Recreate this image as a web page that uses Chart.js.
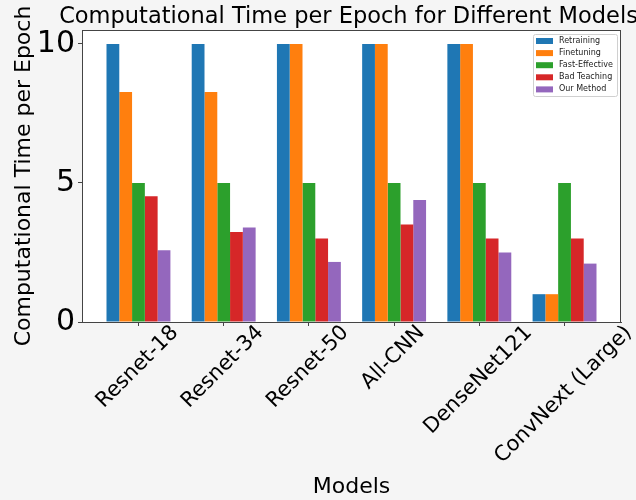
<!DOCTYPE html>
<html>
<head>
<meta charset="utf-8">
<script src="https://cdn.jsdelivr.net/npm/chart.js@4.4.0/dist/chart.umd.min.js"></script>
<style>
  body { margin: 0; background: #f5f5f5; }
  #wrap { width: 636px; height: 500px; }
</style>
</head>
<body>
<div id="wrap"><canvas id="timeChart" width="636" height="500"></canvas></div>
<script>
// Values
const models = ['Resnet-18', 'Resnet-34', 'Resnet-50', 'All-CNN', 'DenseNet121', 'ConvNext (Large)'];
const retraining = [10, 10, 10, 10, 10, 1];
const finetuning = [8.27, 8.27, 10, 10, 10, 1];
const fastEffective = [5, 5, 5, 5, 5, 5];
const badTeaching = [4.52, 3.24, 3.0, 3.51, 3.0, 3.0];
const ourMethod = [2.58, 3.40, 2.16, 4.39, 2.50, 2.10];
const yTicks = [0, 5, 10];

const seriesNames = ['Retraining', 'Finetuning', 'Fast-Effective', 'Bad Teaching', 'Our Method'];
const seriesValues = [retraining, finetuning, fastEffective, badTeaching, ourMethod];
const colors = ['#1f77b4', '#ff7f0e', '#2ca02c', '#d62728', '#9467bd'];

const FONT = 'DejaVu Sans';

const datasets = seriesNames.map((name, i) => ({
    label: name,
    data: seriesValues[i].map((v, j) => ({ x: j, y: v })),
    backgroundColor: colors[i],
    borderWidth: 0,
    barPercentage: 1,
    categoryPercentage: 0.75
}));

// title, frame, rotated x labels and legend drawn like matplotlib
const mplLook = {
    id: 'mplLook',
    beforeDraw(chart) {
        const { ctx, chartArea: a } = chart;
        ctx.save();
        ctx.fillStyle = '#ffffff';
        ctx.fillRect(a.left, a.top, a.right - a.left, a.bottom - a.top);
        ctx.restore();
    },
    afterDraw(chart) {
        const { ctx, chartArea: a } = chart;
        const xs = chart.scales.x;
        ctx.save();

        // frame
        ctx.strokeStyle = '#444';
        ctx.lineWidth = 1;
        ctx.strokeRect(a.left + 0.5, a.top + 0.5, a.right - a.left - 1, a.bottom - a.top);

        // title
        ctx.fillStyle = '#000';
        ctx.font = `22.5px "${FONT}"`;
        ctx.textAlign = 'center';
        ctx.textBaseline = 'middle';
        ctx.fillText('Computational Time per Epoch for Different Models', (a.left + a.right) / 2 - 3, 17);

        // x axis title
        ctx.font = `22px "${FONT}"`;
        ctx.fillText('Models', (a.left + a.right) / 2, 487);

        // y axis title
        ctx.save();
        ctx.translate(24, (a.top + a.bottom) / 2);
        ctx.rotate(-Math.PI / 2);
        ctx.fillText('Computational Time per Epoch', 0, 0);
        ctx.restore();

        // rotated tick labels, centred on the tick like matplotlib
        ctx.font = `21px "${FONT}"`;
        models.forEach((m, i) => {
            const px = xs.getPixelForValue(i);
            const w = ctx.measureText(m).width;
            const side = (w + 24) * Math.SQRT1_2;
            ctx.save();
            ctx.translate(px - 1, a.bottom - 1 + side / 2);
            ctx.rotate(-Math.PI / 4);
            ctx.fillText(m, 0, 0);
            ctx.restore();
        });

        // legend
        const lx = 533, ly = 34, lw = 84, lh = 62;
        ctx.fillStyle = 'rgba(255,255,255,0.8)';
        ctx.strokeStyle = '#d0d0d0';
        ctx.beginPath();
        ctx.roundRect(lx + 0.5, ly + 0.5, lw, lh, 2);
        ctx.fill();
        ctx.stroke();
        ctx.font = `8px "${FONT}"`;
        ctx.textAlign = 'left';
        chart.data.datasets.forEach((ds, i) => {
            const cy = 41 + i * 12.1;
            ctx.fillStyle = ds.backgroundColor;
            ctx.fillRect(536, cy - 3, 17, 6);
            ctx.fillStyle = '#222';
            ctx.fillText(ds.label, 559, cy);
        });
        ctx.restore();
    }
};

new Chart(document.getElementById('timeChart'), {
    type: 'bar',
    data: { datasets: datasets },
    options: {
        responsive: false,
        animation: false,
        layout: { padding: { top: 30, right: 15, left: 0, bottom: 0 } },
        plugins: {
            legend: { display: false },
            title: { display: false },
            tooltip: { enabled: false }
        },
        scales: {
            x: {
                type: 'linear',
                offset: false,
                min: -0.6625,
                max: 5.6625,
                afterBuildTicks: s => { s.ticks = models.map((m, i) => ({ value: i })); },
                afterFit: s => { s.height = 178; },
                ticks: { display: false },
                grid: { display: true, offset: false, drawOnChartArea: false, drawTicks: true, tickLength: 4, color: '#444' },
                border: { display: true, color: '#444' }
            },
            y: {
                min: 0,
                max: 10.5,
                afterBuildTicks: s => { s.ticks = yTicks.map(v => ({ value: v })); },
                afterFit: s => { s.width = 82; },
                ticks: { color: '#000', font: { family: FONT, size: 30 }, padding: 3 },
                grid: { display: true, drawOnChartArea: false, drawTicks: true, tickLength: 4, color: '#444' },
                border: { display: true, color: '#444' }
            }
        }
    },
    plugins: [mplLook]
});
</script>
</body>
</html>
